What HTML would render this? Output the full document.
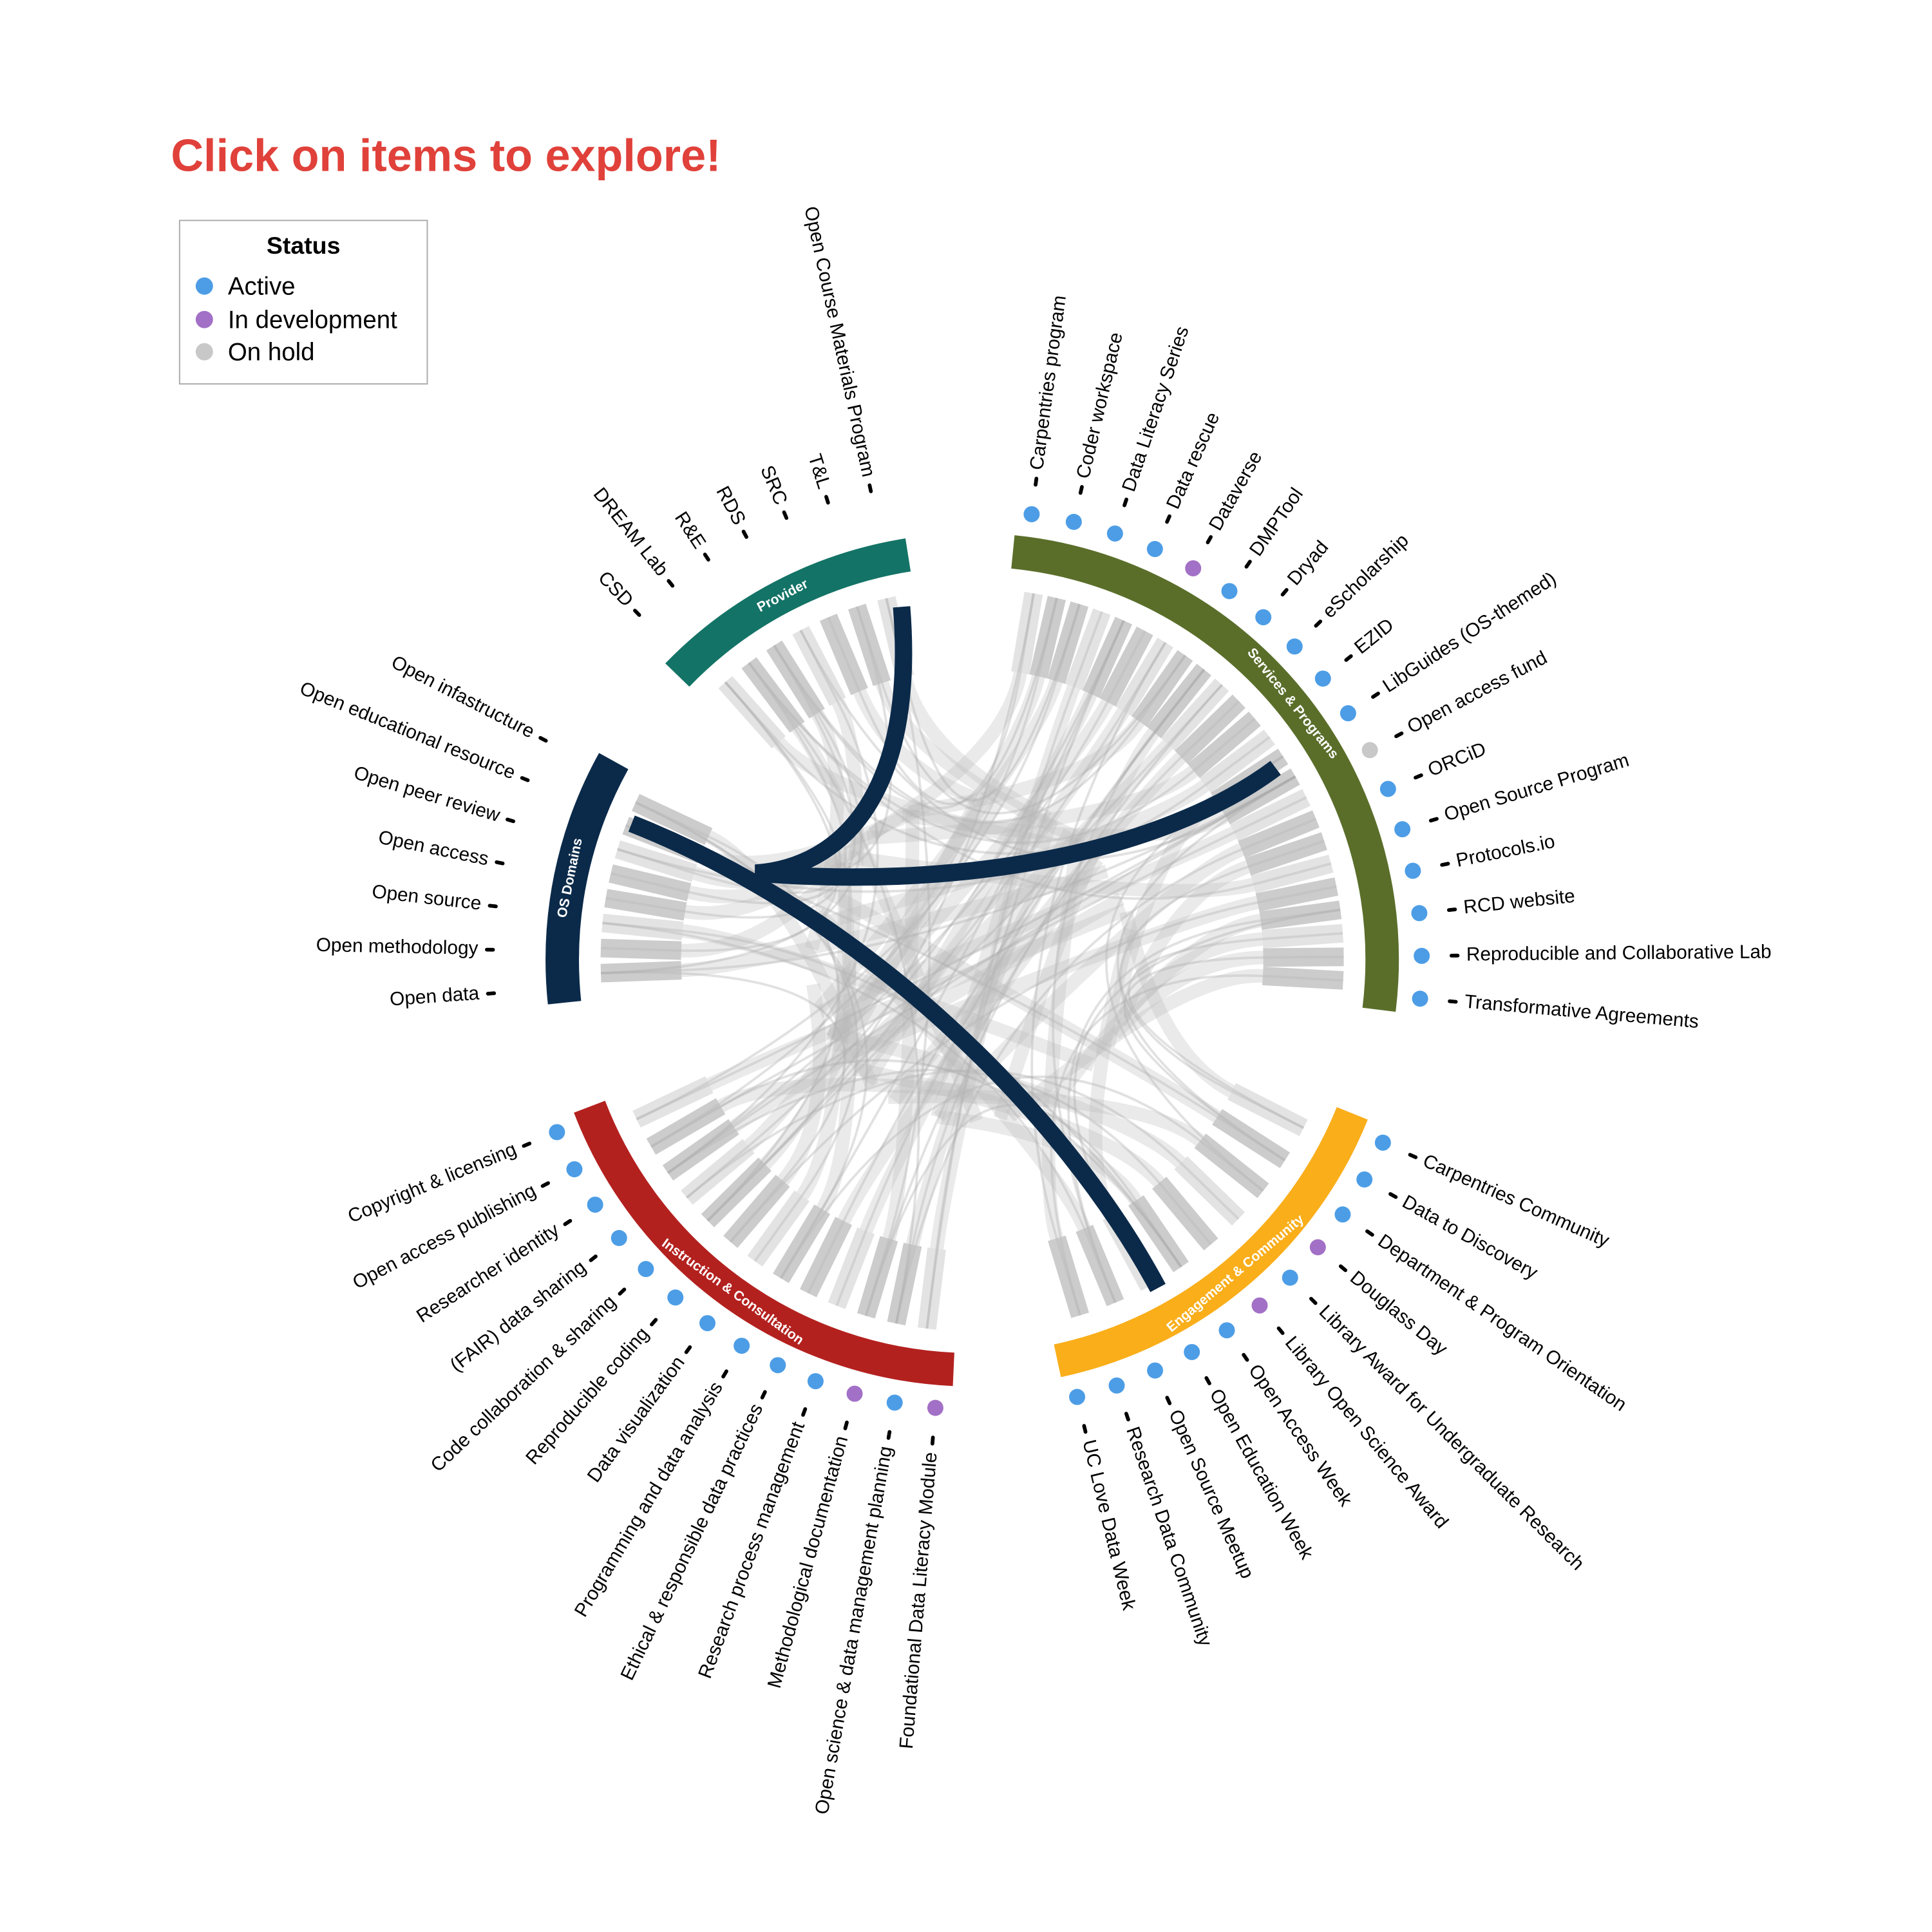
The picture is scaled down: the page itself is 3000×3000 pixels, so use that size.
<!DOCTYPE html>
<html><head><meta charset="utf-8">
<style>
html,body{margin:0;padding:0;background:#fff;}
svg{display:block;}
text{font-family:"Liberation Sans",Arial,sans-serif;}
</style></head>
<body>
<svg id="s" width="3000" height="3000" viewBox="0 0 1560 1560" xmlns="http://www.w3.org/2000/svg">
<text x="138" y="138" font-size="36.5" font-weight="bold" fill="#e0413a">Click on items to explore!</text>
<rect x="145" y="178" width="200" height="132" fill="#fff" stroke="#aaa" stroke-width="1"/>
<text x="245" y="205" font-size="19.5" font-weight="bold" text-anchor="middle">Status</text>
<circle cx="165" cy="231" r="7" fill="#4d9de6"/><text x="184" y="238" font-size="20">Active</text>
<circle cx="165" cy="258" r="7" fill="#a270c6"/><text x="184" y="265" font-size="20">In development</text>
<circle cx="165" cy="284" r="7" fill="#c8c8c8"/><text x="184" y="291" font-size="20">On hold</text>
<g id="rib"></g>
<g id="hl"></g>
<g id="arcs"></g>
<g id="lab"></g>
</svg>
<script>
var NS="http://www.w3.org/2000/svg",cx=785,cy=775;
function P(r,a){a=a*Math.PI/180;return [cx+r*Math.sin(a),cy-r*Math.cos(a)];}
function el(t,at,par,txt){var e=document.createElementNS(NS,t);for(var k in at)e.setAttribute(k,at[k]);if(txt)e.textContent=txt;document.getElementById(par).appendChild(e);return e;}
var B="#4d9de6",Pu="#a270c6",G="#c8c8c8";
var groups=[
{n:"Services & Programs",c:"#5a6e2a",a0:5.7,a1:97,d0:7.6,step:5.46,nr:24,items:[["Carpentries program",B],["Coder workspace",B],["Data Literacy Series",B],["Data rescue",B],["Dataverse",Pu],["DMPTool",B],["Dryad",B],["eScholarship",B],["EZID",B],["LibGuides (OS-themed)",B],["Open access fund",G],["ORCiD",B],["Open Source Program",B],["Protocols.io",B],["RCD website",B],["Reproducible and Collaborative Lab",B],["Transformative Agreements",B]]},
{n:"Engagement & Community",c:"#f9ae1a",a0:112,a1:168,d0:114,step:5.25,nr:9,items:[["Carpentries Community",B],["Data to Discovery",B],["Department & Program Orientation",B],["Douglass Day",Pu],["Library Award for Undergraduate Research",B],["Library Open Science Award",Pu],["Open Access Week",B],["Open Education Week",B],["Open Source Meetup",B],["Research Data Community",B],["UC Love Data Week",B]]},
{n:"Instruction & Consultation",c:"#b3211f",a0:182.6,a1:249,d0:184.7,step:5.23,nr:13,items:[["Foundational Data Literacy Module",Pu],["Open science & data management planning",B],["Methodological documentation",Pu],["Research process management",B],["Ethical & responsible data practices",B],["Programming and data analysis",B],["Data visualization",B],["Reproducible coding",B],["Code collaboration & sharing",B],["(FAIR) data sharing",B],["Researcher identity",B],["Open access publishing",B],["Copyright & licensing",B]]},
{n:"OS Domains",c:"#0b2a4a",a0:264,a1:299,d0:266,step:5.2,nr:8,items:[["Open data"],["Open methodology"],["Open source"],["Open access"],["Open peer review"],["Open educational resource"],["Open infastructure"]]},
{n:"Provider",c:"#137366",a0:314,a1:351,d0:316,step:5.3,nr:7,items:[["CSD"],["DREAM Lab"],["R&E"],["RDS"],["SRC"],["T&L"],["Open Course Materials Program"]]}
];
var ends=[];
groups.forEach(function(g,gi){
 var p0=P(331,g.a0),p1=P(331,g.a1);
 el("path",{d:"M"+p0+" A331 331 0 0 1 "+p1,fill:"none",stroke:g.c,"stroke-width":27},"arcs");
 var m=(g.a0+g.a1)/2,rot=m<90?m:(m<270?m-180:m-360),pm=P(331,m);
 el("text",{x:0,y:0,transform:"translate("+pm+") rotate("+rot+")","font-size":11,"font-weight":"bold",fill:"#fff","text-anchor":"middle","dominant-baseline":"middle"},"arcs",g.n);
 g.items.forEach(function(it,i){
  var a=g.d0+i*g.step;
  if(it[1]){var d=P(363,a);el("circle",{cx:d[0],cy:d[1],r:6.5,fill:it[1]},"lab");}
  var t0=P(387,a),t1=P(392,a);
  el("line",{x1:t0[0],y1:t0[1],x2:t1[0],y2:t1[1],stroke:"#000","stroke-width":3,"stroke-linecap":"round"},"lab");
  var tp=P(399,a),left=a>=180;
  el("text",{x:0,y:0,transform:"translate("+tp+") rotate("+(left?a+90:a-90)+")","font-size":15.5,"text-anchor":left?"end":"start","dominant-baseline":"middle"},"lab",it[0]);
 });
 for(var k=0;k<g.nr;k++){var a=g.a0+2+(g.a1-g.a0-4)*(k+0.5)/g.nr;ends.push({g:gi,a:a});}
});
var seed=7;function rnd(){seed=(seed*16807)%2147483647;return seed/2147483647;}
ends.forEach(function(e,i){
 var j,tries=0;do{j=Math.floor(rnd()*ends.length);tries++;}while(ends[j].g==e.g&&tries<50);
 var o=ends[j],p=P(300,e.a),q=P(300,o.a),s0=P(240,e.a);
 el("path",{d:"M"+p+" L"+s0+" Q"+cx+","+cy+" "+q,fill:"none",stroke:"#aaa","stroke-width":2,opacity:0.35},"rib");
 var s1=P(235,e.a);
 el("line",{x1:p[0],y1:p[1],x2:s1[0],y2:s1[1],stroke:"#bbb","stroke-width":15,opacity:(i%3==0?0.4:0.75)},"rib");
 el("path",{d:"M"+s1+" Q"+P(170,e.a)+" "+P(130,o.a+(rnd()-0.5)*30),fill:"none",stroke:"#bbb","stroke-width":11,opacity:0.3},"rib");
});
el("path",{d:"M728,490 C740,640 680,700 610,705 C800,720 950,680 1030,620",fill:"none",stroke:"#0b2a4a","stroke-width":14},"hl");
el("path",{d:"M510,665 C700,740 860,900 935,1040",fill:"none",stroke:"#0b2a4a","stroke-width":14},"hl");
</script>
</body></html>
